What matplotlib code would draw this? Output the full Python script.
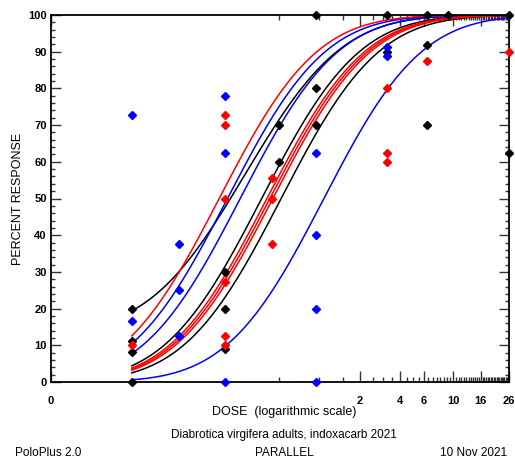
import math
import numpy as np
import matplotlib
matplotlib.use("Agg")
import matplotlib.pyplot as plt
from matplotlib.ticker import FixedLocator, NullFormatter

plt.rcParams['font.family'] = ['Liberation Sans', 'DejaVu Sans']

# parallel probit lines: common slope (probits per log10 dose), LD50 and natural response per line
slope = 1.76
red_ld50 = [0.1795, 0.4074, 0.4285, 0.4508]
red_nat = [0.0, 0.0, 0.0, 0.0]
blue_ld50 = [0.207, 0.2576, 1.084]
blue_nat = [0.0, 0.0, 0.0]
black_ld50 = [0.2818, 0.3724, 0.52]
black_nat = [0.135, 0.0, 0.0]

# observed responses
red_dose = [0.04, 0.2, 0.2, 0.2, 0.2, 0.2, 0.2, 0.447, 0.447, 0.447, 3.2, 3.2, 3.2, 6.4, 26]
red_resp = [10, 72.7, 70, 50, 27.3, 12.5, 10, 55.5, 50, 37.5, 80, 62.5, 60, 87.5, 90]

blue_dose = [0.04, 0.04, 0.09, 0.09, 0.09, 0.2, 0.2, 0.2, 0.95, 0.95, 0.95, 0.95, 3.2, 3.2]
blue_resp = [72.7, 16.7, 37.5, 25, 12.5, 77.8, 62.5, 0, 62.5, 40, 20, 0, 91.2, 88.8]

black_dose = [0.04, 0.04, 0.04, 0.04, 0.2, 0.2, 0.2, 0.5, 0.5, 0.95, 0.95, 0.95,
              3.2, 3.2, 6.4, 6.4, 6.4, 9.1, 26, 26]
black_resp = [20, 11.1, 8.3, 0, 30, 20, 9.1, 70, 60, 100, 80, 70,
              100, 90, 100, 91.7, 70, 100, 100, 62.5]

x_labels = ['0', '2', '4', '6', '10', '16', '26']
x_label_pos = [0.01, 2, 4, 6, 10, 16, 26]


def probit_curve(dose, ld50, nat):
    z = slope * (np.log10(dose) - math.log10(ld50))
    p = np.array([0.5 * (1 + math.erf(v / math.sqrt(2))) for v in z])
    return 100 * (nat + (1 - nat) * p)


W, H = 515, 459
fig = plt.figure(figsize=(W / 100, H / 100), dpi=100)
ax = fig.add_axes([51 / W, 1 - 382 / H, (509 - 51) / W, (382 - 15) / H])

d = np.logspace(math.log10(0.04), math.log10(26), 300)
for ld, c in zip(black_ld50, black_nat):
    ax.plot(d, probit_curve(d, ld, c), color='black', lw=1.1, zorder=2)
for ld, c in zip(blue_ld50, blue_nat):
    ax.plot(d, probit_curve(d, ld, c), color='#0000ff', lw=1.1, zorder=2)
for ld, c in zip(red_ld50, red_nat):
    ax.plot(d, probit_curve(d, ld, c), color='#ff0000', lw=1.1, zorder=2)

ax.plot(black_dose, black_resp, 'D', color='black', ms=4.3, ls='none', zorder=4, clip_on=False)
ax.plot(blue_dose, blue_resp, 'D', color='#0000ff', ms=4.3, ls='none', zorder=4, clip_on=False)
ax.plot(red_dose, red_resp, 'D', color='#ff0000', ms=4.3, ls='none', zorder=4, clip_on=False)

ax.set_xscale('log')
ax.set_xlim(0.01, 26)
ax.set_ylim(0, 100)

ax.xaxis.set_major_locator(FixedLocator(x_label_pos))
ax.set_xticklabels(x_labels)
ax.xaxis.set_minor_locator(FixedLocator(list(np.arange(0.5, 26.01, 0.5))))
ax.xaxis.set_minor_formatter(NullFormatter())
ax.yaxis.set_major_locator(FixedLocator(list(range(0, 101, 10))))
ax.yaxis.set_minor_locator(FixedLocator(list(range(0, 101, 2))))
ax.yaxis.set_minor_formatter(NullFormatter())

ax.tick_params(which='both', direction='in', top=True, right=True, width=1.0, color='#333333')
ax.tick_params(axis='x', which='major', length=8, pad=10, labelsize=8)
ax.tick_params(axis='x', which='minor', length=3.5)
ax.tick_params(axis='y', which='major', length=7, pad=3, labelsize=8)
ax.tick_params(axis='y', which='minor', length=3)
for lab in ax.get_xticklabels() + ax.get_yticklabels():
    lab.set_fontweight('bold')
for sp in ax.spines.values():
    sp.set_linewidth(1.3)

fig.text(18 / W, 1 - 199 / H, 'PERCENT RESPONSE', rotation=90, ha='center', va='center', fontsize=9)
fig.text(284 / W, 1 - 412 / H, 'DOSE  (logarithmic scale)', ha='center', va='center', fontsize=9)
fig.text(284 / W, 1 - 435 / H, 'Diabrotica virgifera adults, indoxacarb 2021', ha='center', va='center', fontsize=8.5)
fig.text(15 / W, 1 - 453 / H, 'PoloPlus 2.0', ha='left', va='center', fontsize=8.5)
fig.text(284 / W, 1 - 453 / H, 'PARALLEL', ha='center', va='center', fontsize=8.5)
fig.text(507 / W, 1 - 453 / H, '10 Nov 2021', ha='right', va='center', fontsize=8.5)

fig.savefig('out.png', dpi=100)
